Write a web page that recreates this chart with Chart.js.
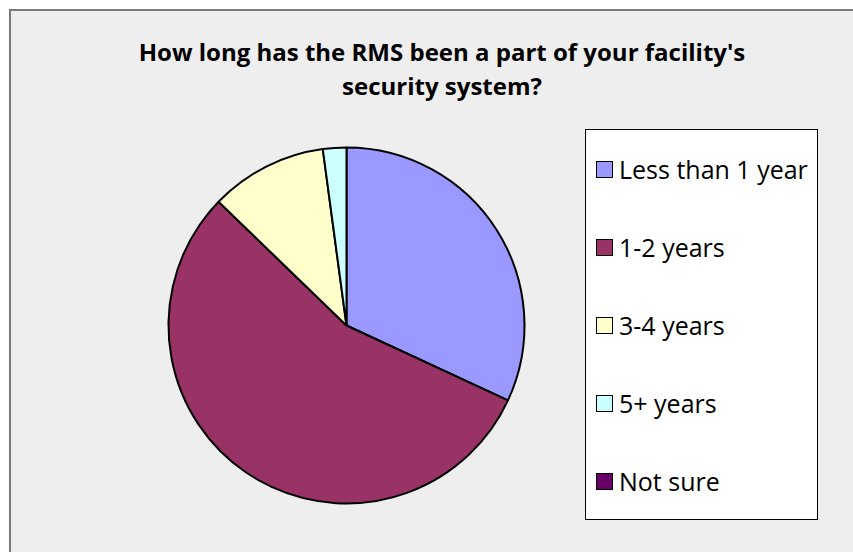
<!DOCTYPE html>
<html>
<head>
<meta charset="utf-8">
<script src="https://cdn.jsdelivr.net/npm/chart.js@4"></script>
<style>
  body { margin: 0; background: #ffffff; width: 853px; height: 552px; overflow: hidden; position: relative; font-family: "Open Sans", sans-serif; }
  #frame { position: absolute; left: 9px; top: 9px; width: 900px; height: 600px; background: #eeeeee; border-top: 2px solid #7a7a7a; border-left: 2px solid #7a7a7a; }
  #title { position: absolute; left: 92px; width: 700px; top: 35px; text-align: center; font-weight: bold; font-size: 24px; line-height: 34px; color: #000; }
  #pie-wrap { position: absolute; left: 157px; top: 136px; width: 379px; height: 379px; }
  #legend { position: absolute; left: 585px; top: 129px; width: 231px; height: 389px; background: #fff; border: 1px solid #000; }
  .item { position: absolute; left: 10px; height: 30px; display: flex; align-items: center; font-size: 25px; color: #000; white-space: nowrap; }
  .item .box { width: 15px; height: 15px; border: 1.5px solid #000; margin-right: 6px; }
</style>
</head>
<body>
<div id="frame"></div>
<div id="title">How long has the RMS been a part of your facility's<br>security system?</div>
<div id="pie-wrap"><canvas id="pie"></canvas></div>
<div id="legend"></div>
<script>
// Dados do gráfico
const categories = ['Less than 1 year', '1-2 years', '3-4 years', '5+ years', 'Not sure'];
const responses = [15, 26, 5, 1, 0];
const sliceColors = ['#9999ff', '#993366', '#ffffcc', '#ccffff', '#660066'];

const chart = new Chart(document.getElementById('pie'), {
    type: 'pie',
    data: {
        labels: categories,
        datasets: [{
            data: responses,
            backgroundColor: sliceColors,
            borderColor: '#000',
            borderWidth: 2,
        }]
    },
    options: {
        responsive: true,
        maintainAspectRatio: false,
        animation: false,
        radius: 178,
        layout: { padding: 0 },
        plugins: {
            legend: { display: false },
            tooltip: { enabled: false }
        }
    }
});

// Legenda em HTML, montada a partir dos dados do próprio gráfico
const legend = document.getElementById('legend');
chart.data.labels.forEach((label, i) => {
    const item = document.createElement('div');
    item.className = 'item';
    item.style.top = (24 + i * 78) + 'px';
    const box = document.createElement('span');
    box.className = 'box';
    box.style.background = chart.data.datasets[0].backgroundColor[i];
    const text = document.createElement('span');
    text.textContent = label;
    item.appendChild(box);
    item.appendChild(text);
    legend.appendChild(item);
});
</script>
</body>
</html>
